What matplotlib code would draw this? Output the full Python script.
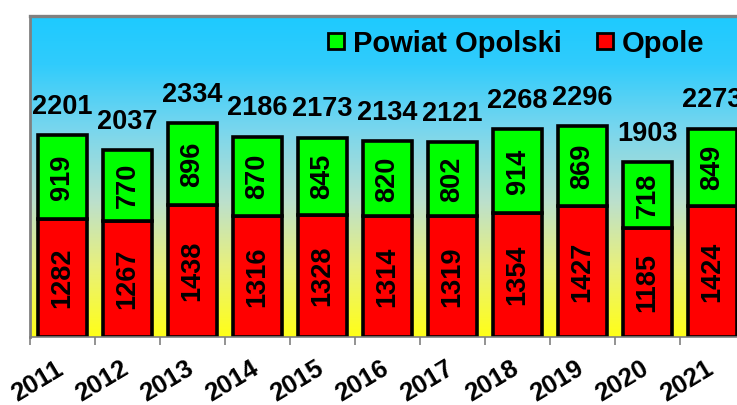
import numpy as np
import matplotlib
matplotlib.use("Agg")
import matplotlib.pyplot as plt
from matplotlib.colors import LinearSegmentedColormap
from matplotlib.lines import Line2D
from matplotlib.transforms import ScaledTranslation

years = ["2011", "2012", "2013", "2014", "2015", "2016", "2017", "2018", "2019", "2020", "2021"]
opole = [1282, 1267, 1438, 1316, 1328, 1314, 1319, 1354, 1427, 1185, 1424]
powiat = [919, 770, 896, 870, 845, 820, 802, 914, 869, 718, 849]
series_names = ["Powiat Opolski", "Opole"]

plt.rcParams['font.family'] = ['Liberation Sans', 'DejaVu Sans']
plt.rcParams['font.weight'] = 'bold'

W, H = 737, 405
fig = plt.figure(figsize=(W / 100, H / 100), dpi=100)
fig.patch.set_facecolor('white')

left = 30 / W
bottom = (H - 337) / H
top = (H - 16) / H
ax = fig.add_axes([left, bottom, 715 / W, top - bottom])

x = np.arange(len(years))
ax.set_xlim(-0.5, len(years) - 0.5)
ax.set_ylim(0, 3500)

# gradient background
cmap = LinearSegmentedColormap.from_list(
    "bg", [(0.0, "#FFFF18"), (0.22, "#E8F07C"), (0.42, "#BCE0CC"),
           (0.65, "#78D6EE"), (0.85, "#30CCFC"), (1.0, "#1ECAFF")])
grad = np.linspace(0, 1, 256).reshape(-1, 1)
ax.imshow(grad, cmap=cmap, origin='lower', aspect='auto',
          extent=(-0.5, len(years) - 0.5, 0, 3500), zorder=0)

bw = 0.755
ax.bar(x, opole, width=bw, color='#FF0000', edgecolor='black', linewidth=2.6, zorder=2)
ax.bar(x, powiat, bottom=opole, width=bw, color='#00FF00', edgecolor='black', linewidth=2.6, zorder=2)

fs = 19.5
for i in range(len(years)):
    ax.text(x[i], opole[i] / 2, str(opole[i]), rotation=90, ha='center', va='center',
            fontsize=fs, fontweight='bold', zorder=3)
    ax.text(x[i], opole[i] + powiat[i] / 2, str(powiat[i]), rotation=90, ha='center', va='center',
            fontsize=fs, fontweight='bold', zorder=3)
    tot = opole[i] + powiat[i]
    ax.annotate(str(tot), (x[i], tot), xytext=(0, 11), textcoords='offset points',
                ha='center', va='bottom', fontsize=fs, fontweight='bold', zorder=3,
                annotation_clip=False)

# axes styling
ax.spines['right'].set_visible(False)
ax.spines['top'].set_color('#808080')
ax.spines['top'].set_linewidth(2.4)
ax.spines['left'].set_color('#808080')
ax.spines['left'].set_linewidth(2.0)
ax.spines['bottom'].set_color('#808080')
ax.spines['bottom'].set_linewidth(1.2)
ax.set_yticks([])
ax.set_xticks(x)
ax.set_xticklabels(years, rotation=31, ha='right', va='top', fontsize=18.5, fontweight='bold')
ax.set_xticks(np.arange(-0.5, len(years), 1), minor=True)
ax.tick_params(axis='x', which='major', length=0, pad=14)
ax.tick_params(axis='x', which='minor', length=6, width=1.2, color='#808080')
shift = ScaledTranslation(0.05, 0, fig.dpi_scale_trans)
for lab in ax.get_xticklabels():
    lab.set_transform(lab.get_transform() + shift)

handles = [Line2D([], [], marker='s', linestyle='none', markersize=12,
                  markerfacecolor='#00FF00', markeredgecolor='black', markeredgewidth=2),
           Line2D([], [], marker='s', linestyle='none', markersize=12,
                  markerfacecolor='#FF0000', markeredgecolor='black', markeredgewidth=2)]
leg = fig.legend(handles, series_names, loc='upper left', bbox_to_anchor=(314 / W, 1 - 18 / H),
                 ncol=2, frameon=False, handlelength=0.7, handletextpad=0.25, columnspacing=1.1,
                 borderaxespad=0, prop={'size': 21, 'weight': 'bold'})

fig.savefig("out.png", dpi=100)
